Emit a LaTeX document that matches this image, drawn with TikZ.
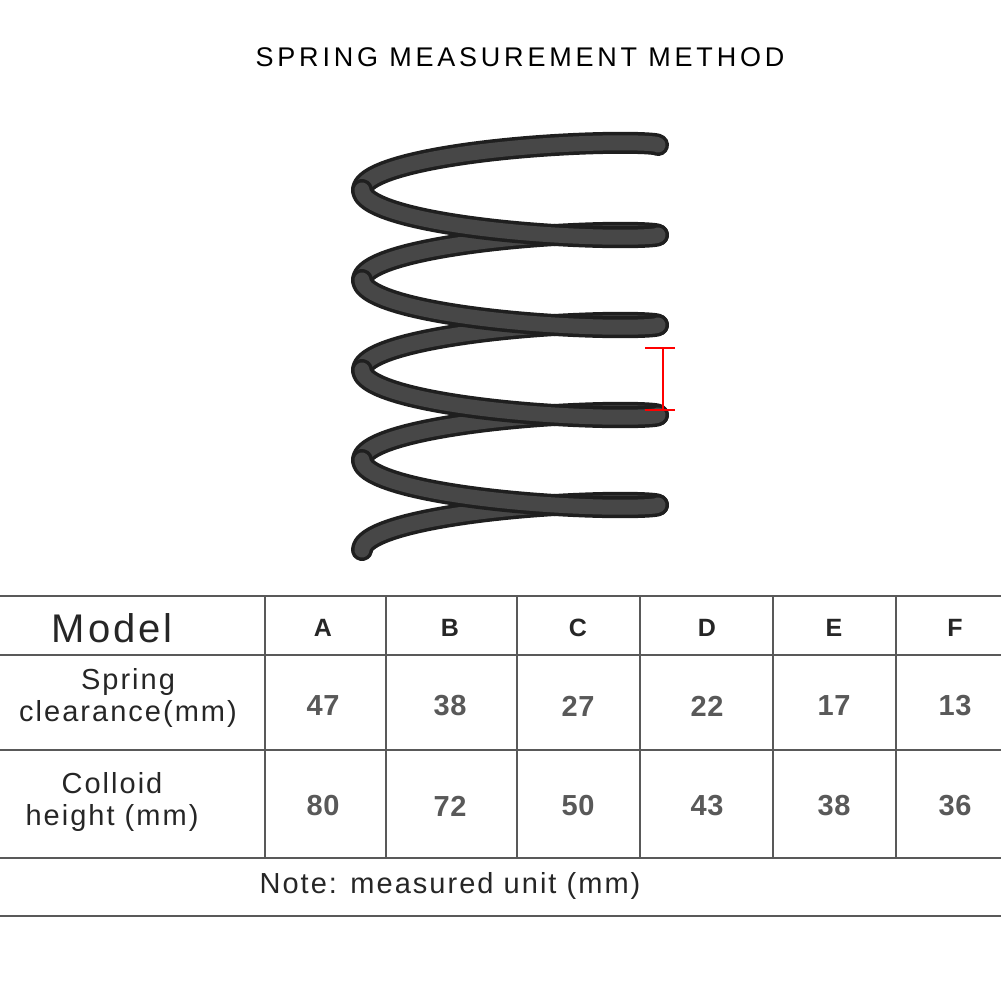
\documentclass[tikz,border=0pt]{standalone}
\usepackage{fontspec}
\setmainfont[LetterSpace=7]{Liberation Sans}
\begin{document}
\begin{tikzpicture}[x=1pt,y=-1pt,
  grid/.style={draw=black!65,line width=1.8pt},
  cell/.style={font=\fontsize{29}{32}\selectfont,text=black!85,align=center},
  num/.style={font=\fontsize{29}{30}\selectfont\bfseries\addfontfeature{LetterSpace=2},text=black!65},
  hd/.style={font=\fontsize{25}{28}\selectfont\bfseries,text=black!85},
  wireo/.style={draw=black!88,line width=22pt,line cap=round,line join=round},
  wirei/.style={draw=black!72,line width=15pt,line cap=round,line join=round}]
\useasboundingbox (0,0) rectangle (1001,1001);
\node (title) at (520,57) {\fontsize{27}{30}\selectfont\addfontfeature{LetterSpace=14}SPRING MEASUREMENT METHOD};
% spring: back halves first, then front halves
\foreach \k in {0,...,4}{
  \foreach \st in {wireo,wirei}
  \draw[\st] plot[domain=0:180,samples=40,variable=\t]
    ({510+148*cos(\t)},{145+90*\k+0.25*\t-19*sin(\t)});
}
\foreach \k in {0,...,3}{
  \foreach \st in {wireo,wirei}
  \draw[\st] plot[domain=180:360,samples=40,variable=\t]
    ({510+148*cos(\t)},{145+90*\k+0.25*\t-19*sin(\t)});
}
% measurement
\coordinate (mt) at (663,348); \coordinate (mb) at (663,410);
\draw[red,line width=1.3pt] (mt) -- (mb);
\draw[red,line width=1.3pt] (645,348) -- (675,348) (645,410) -- (675,410);
% table
\foreach \y in {596,655,750,858,916} \draw[grid] (0,\y) -- (1001,\y);
\foreach \x in {265,386,517,640,773,896} \draw[grid] (\x,596) -- (\x,858);
\node[font=\fontsize{40}{42}\selectfont,text=black!85] (model) at (112,628) {Model};
\node[cell] (sc) at (128,698) {Spring\\clearance(mm)};
\node[cell] (ch) at (112,802) {Colloid\\height (mm)};
\foreach \x/\h/\a/\b [count=\i] in {323/A/47/80,450/B/38/72,578/C/27/50,707/D/22/43,834/E/17/38,955/F/13/36}{
  \node[hd] (h\i) at (\x,628) {\h};
  \node[num] (a\i) at (\x,706) {\a};
  \node[num] (b\i) at (\x,806) {\b};
}
\node[cell] (note) at (450,886) {Note: measured unit (mm)};
\end{tikzpicture}
\end{document}
